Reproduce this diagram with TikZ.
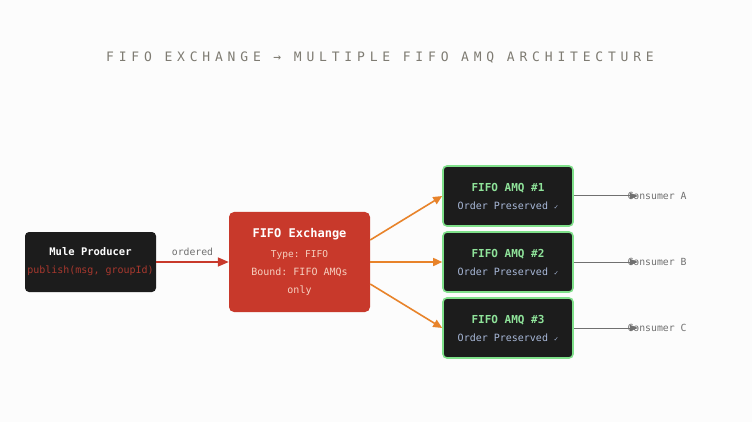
\documentclass[tikz,border=0pt]{standalone}
\usepackage{fontspec}
\setmonofont{DejaVu Sans Mono}
\newfontfamily\titlefont[LetterSpace=37]{DejaVu Sans Mono}
\usetikzlibrary{arrows.meta}
\definecolor{bg}{HTML}{FCFCFC}
\definecolor{boxdark}{HTML}{1C1C1C}
\definecolor{exred}{HTML}{C8392B}
\definecolor{amqgreen}{HTML}{7FE08A}
\definecolor{txtgreen}{HTML}{8FE39A}
\definecolor{txtblue}{HTML}{A8B8D8}
\definecolor{pubred}{HTML}{A8382E}
\definecolor{exsub}{HTML}{F6D0C0}
\definecolor{orangeA}{HTML}{E8832A}
\definecolor{greyA}{HTML}{707070}
\definecolor{titlegrey}{HTML}{7E7B72}
\begin{document}
\begin{tikzpicture}[x=1pt,y=-1pt,font=\ttfamily,
  amq/.style={draw=amqgreen,line width=1.6pt,fill=boxdark,rounded corners=4pt,minimum width=130pt,minimum height=60pt,align=center,inner sep=0pt},
  oarr/.style={orangeA,line width=1.6pt,-{Triangle[length=9pt,width=8pt]}},
  garr/.style={greyA,line width=1pt,-{Triangle[length=8pt,width=6pt]}},
  cons/.style={anchor=west,text=greyA,font=\ttfamily\fontsize{9.8}{12}\selectfont}]
\fill[bg] (0,0) rectangle (752,422);
\node (title) at (380,58) {\titlefont\fontsize{13}{16}\selectfont\color{titlegrey}FIFO EXCHANGE → MULTIPLE FIFO AMQ ARCHITECTURE};
\node[fill=boxdark,rounded corners=4pt,minimum width=131pt,minimum height=60pt,align=center,inner sep=0pt] (prod) at (90.5,262)
 {\fontsize{10.5}{12}\selectfont\bfseries\color{white}Mule Producer\\[6pt]\fontsize{10}{12}\selectfont\mdseries\color{pubred}publish(msg, groupId)};
\node[fill=exred,rounded corners=5pt,minimum width=141pt,minimum height=100pt,align=center,inner sep=0pt] (ex) at (299.5,262)
 {\fontsize{12}{12}\selectfont\bfseries\color{white}FIFO Exchange\\[8pt]\fontsize{9.5}{12}\selectfont\mdseries\color{exsub}Type: FIFO\\[6pt]\color{exsub}Bound: FIFO AMQs\\[6pt]\color{exsub}only};
\foreach \i/\y in {1/196,2/262,3/328}{
  \node[amq] (q\i) at (508,\y) {\fontsize{11}{12}\selectfont\bfseries\color{txtgreen}FIFO AMQ \#\i\\[6pt]\fontsize{10}{12}\selectfont\mdseries\color{txtblue}Order Preserved \fontsize{7}{8}\selectfont✓};
}
\node[cons] (cA) at (624,196) {Consumer A};
\node[cons] (cB) at (624,262) {Consumer B};
\node[cons] (cC) at (624,328) {Consumer C};
\draw[exred,line width=1.6pt,-{Triangle[length=11pt,width=9pt]}] (prod.east) -- (ex.west) node[midway,above=2pt,text=greyA,font=\ttfamily\fontsize{9.8}{12}\selectfont]{ordered};
\draw[oarr] (ex.east|-0,240) -- (q1.west);
\draw[oarr] (ex.east) -- (q2.west);
\draw[oarr] (ex.east|-0,284) -- (q3.west);
\draw[garr] (q1.east) -- ([xshift=14pt]cA.west);
\draw[garr] (q2.east) -- ([xshift=14pt]cB.west);
\draw[garr] (q3.east) -- ([xshift=14pt]cC.west);
\end{tikzpicture}
\end{document}
